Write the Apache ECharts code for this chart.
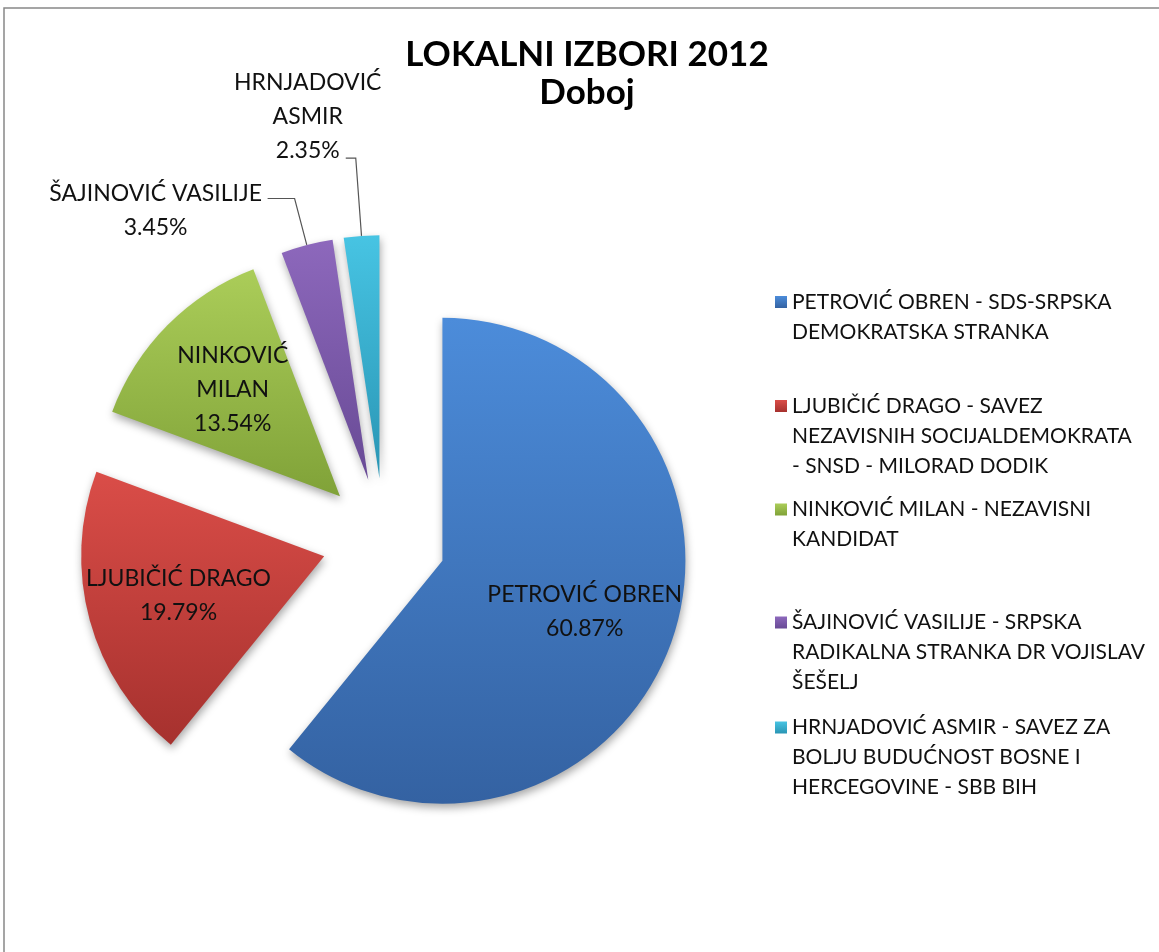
<!DOCTYPE html>
<html>
<head>
<meta charset="utf-8">
<script src="https://cdn.jsdelivr.net/npm/echarts@6/dist/echarts.min.js"></script>
<style>
    body { margin: 0; background: #fff; }
    #chart { width: 1159px; height: 952px; }
</style>
</head>
<body>
<div id="chart"></div>
<script>
const candidates = [
    "PETROVIĆ OBREN", "LJUBIČIĆ DRAGO", "NINKOVIĆ MILAN", "ŠAJINOVIĆ VASILIJE", "HRNJADOVIĆ ASMIR",
];
const parties = [
    "SDS-SRPSKA DEMOKRATSKA STRANKA",
    "SAVEZ NEZAVISNIH SOCIJALDEMOKRATA - SNSD - MILORAD DODIK",
    "NEZAVISNI KANDIDAT",
    "SRPSKA RADIKALNA STRANKA DR VOJISLAV ŠEŠELJ",
    "SAVEZ ZA BOLJU BUDUĆNOST BOSNE I HERCEGOVINE - SBB BIH",
];
const shares = [60.87, 19.79, 13.54, 3.45, 2.35];

// how the texts are broken into lines in the picture
const sliceLabelText = [
    "PETROVIĆ OBREN", "LJUBIČIĆ DRAGO", "NINKOVIĆ\nMILAN", "ŠAJINOVIĆ VASILIJE", "HRNJADOVIĆ\nASMIR",
];
const legendText = [
    "PETROVIĆ OBREN - SDS-SRPSKA\nDEMOKRATSKA STRANKA",
    "LJUBIČIĆ DRAGO - SAVEZ\nNEZAVISNIH SOCIJALDEMOKRATA\n- SNSD - MILORAD DODIK",
    "NINKOVIĆ MILAN - NEZAVISNI\nKANDIDAT",
    "ŠAJINOVIĆ VASILIJE - SRPSKA\nRADIKALNA STRANKA DR VOJISLAV\nŠEŠELJ",
    "HRNJADOVIĆ ASMIR - SAVEZ ZA\nBOLJU BUDUĆNOST BOSNE I\nHERCEGOVINE - SBB BIH",
];

const FONT = "Lato";
const names = candidates.map((c, i) => `${c} - ${parties[i]}`);
const pct = (i) => `${shares[i].toFixed(2)}%`;

const gradients = [
    ["#4c8cda", "#3462a2"],
    ["#da4d48", "#a6312e"],
    ["#abcd59", "#80a238"],
    ["#8d68bc", "#684a95"],
    ["#47c4e3", "#2995b4"],
];
const grad = (c) => ({
    type: "linear", x: 0, y: 0, x2: 0, y2: 1,
    colorStops: [{ offset: 0, color: c[0] }, { offset: 1, color: c[1] }],
});

// outside labels (small slices): leader line lengths, text box tweaks
const outsideLabel = {
    3: { length: 48, length2: 27, width: 214, padding: [24, 0, 0, 0] },
    4: { length: 78, length2: 10, width: 66, padding: [0, 0, 82, 0] },
};

const center = [384, 540];
const explode = 62;

const pieData = shares.map((v, i) => {
    const item = {
        name: names[i],
        value: v,
        selected: true,
        itemStyle: { color: grad(gradients[i]) },
    };
    const o = outsideLabel[i];
    if (o) {
        item.label = {
            show: true,
            position: "outside",
            padding: o.padding,
            formatter: () => (sliceLabelText[i] + "\n" + pct(i))
                .split("\n").map((l) => `{c|${l}}`).join("\n"),
            rich: {
                c: {
                    width: o.width, align: "center", fontFamily: FONT,
                    fontSize: 23, lineHeight: 34, color: "#111",
                },
            },
        };
        item.labelLine = { show: true, length: o.length, length2: o.length2 };
    }
    return item;
});

// transparent copy, only used to place the inside labels a bit further out
const labelData = shares.map((v, i) => ({
    name: names[i],
    value: v,
    selected: true,
    label: { show: !outsideLabel[i] },
}));

// legend: one block per item; blank lines above keep the icon level with the first text line
const legendFirstLine = [302, 406, 509.5, 622.5, 727.5];
const LINE = 30;
const legends = names.map((n, i) => {
    const lines = legendText[i].split("\n").length;
    const blank = "\n".repeat(lines - 1);
    return {
        orient: "vertical",
        left: 775,
        top: legendFirstLine[i] - (LINE * (2 * lines - 1)) / 2,
        padding: 0,
        data: [n],
        icon: "rect",
        itemWidth: 12,
        itemHeight: 12,
        itemStyle: { shadowBlur: 0, shadowOffsetX: 0, shadowOffsetY: 0 },
        selectedMode: false,
        formatter: () => " " + blank + legendText[i],
        textStyle: {
            fontFamily: FONT, fontSize: 21, lineHeight: LINE, color: "#111",
        },
    };
});

const option = {
    animation: false,
    backgroundColor: "#fff",
    title: {
        text: "LOKALNI IZBORI 2012\nDoboj",
        left: 587,
        top: 36,
        padding: 0,
        textAlign: "center",
        textStyle: {
            fontFamily: FONT, fontWeight: "bold", fontSize: 35, lineHeight: 38, color: "#000",
        },
    },
    legend: legends,
    graphic: [
        {
            type: "rect",
            silent: true,
            shape: { x: 4, y: 8, width: 1300, height: 1100 },
            style: { fill: "none", stroke: "#888", lineWidth: 1.5 },
        },
    ],
    series: [
        {
            name: "Doboj",
            type: "pie",
            center: center,
            radius: [0, 243],
            startAngle: 90,
            clockwise: true,
            selectedMode: "multiple",
            selectedOffset: explode,
            avoidLabelOverlap: false,
            emphasis: { disabled: true },
            itemStyle: {
                shadowBlur: 8, shadowColor: "rgba(0,0,0,0.35)", shadowOffsetX: 1, shadowOffsetY: 4,
            },
            label: { show: false },
            labelLine: {
                show: false,
                lineStyle: { color: "#555", width: 1.2 },
            },
            data: pieData,
        },
        {
            name: "labels",
            type: "pie",
            silent: true,
            center: center,
            radius: [0, 296],
            startAngle: 90,
            clockwise: true,
            selectedMode: "multiple",
            selectedOffset: explode,
            emphasis: { disabled: true },
            itemStyle: { color: "rgba(0,0,0,0)" },
            label: {
                position: "inside",
                formatter: (p) => `${sliceLabelText[p.dataIndex]}\n${pct(p.dataIndex)}`,
                fontFamily: FONT,
                fontSize: 23,
                lineHeight: 34,
                color: "#111",
                align: "center",
            },
            labelLine: { show: false },
            data: labelData,
        },
    ],
};

const chart = echarts.init(document.getElementById("chart"));
chart.setOption(option);
</script>
</body>
</html>
